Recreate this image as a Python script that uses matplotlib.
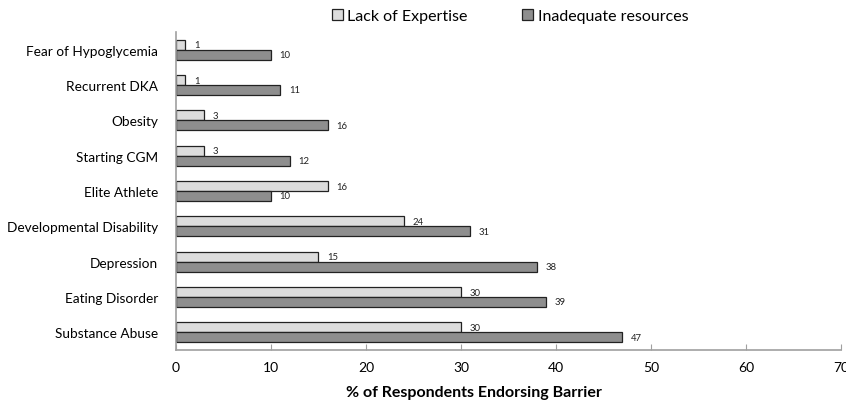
import numpy as np
import matplotlib.pyplot as plt

plt.rcParams['font.family'] = ['Lato', 'DejaVu Sans']

# categories top to bottom
barriers = ["Fear of Hypoglycemia", "Recurrent DKA", "Obesity", "Starting CGM",
            "Elite Athlete", "Developmental Disability", "Depression",
            "Eating Disorder", "Substance Abuse"]
lack_expertise = [1, 1, 3, 3, 16, 24, 15, 30, 30]
inadequate_resources = [10, 11, 16, 12, 10, 31, 38, 39, 47]
xticks = [0, 10, 20, 30, 40, 50, 60, 70]

fig = plt.figure(figsize=(8.46, 4.02), dpi=100)
ax = fig.add_axes([0.208, 0.127, 0.786, 0.791])

n = len(barriers)
y = np.arange(n)[::-1]
h = 0.28

b1 = ax.barh(y + h / 2, lack_expertise, height=h, color="#dcdcdc",
             edgecolor="#222222", linewidth=0.9, label="Lack of Expertise")
b2 = ax.barh(y - h / 2, inadequate_resources, height=h, color="#8e8e8e",
             edgecolor="#222222", linewidth=0.9, label="Inadequate resources")

for bars, vals in ((b1, lack_expertise), (b2, inadequate_resources)):
    for bar, v in zip(bars, vals):
        ax.annotate(str(v), (v, bar.get_y() + bar.get_height() / 2),
                    xytext=(6, 0), textcoords="offset points",
                    va="center", ha="left", fontsize=6.8, color="#222222")

ax.set_xlim(0, 70)
ax.set_ylim(-0.5, n - 0.5)
ax.set_xticks(xticks)
ax.set_yticks(y)
ax.set_yticklabels(barriers, fontsize=9.8)
ax.tick_params(axis="y", length=0, pad=13)
ax.tick_params(axis="x", direction="in", length=4, color="#a0a0a0",
               labelsize=10, pad=8)

for s in ("top", "right"):
    ax.spines[s].set_visible(False)
ax.spines["left"].set_color("#a0a0a0")
ax.spines["bottom"].set_color("#a0a0a0")
ax.spines["left"].set_linewidth(1.2)
ax.spines["bottom"].set_linewidth(1.2)

fig.text(0.56, 0.005, "% of Respondents Endorsing Barrier", ha="center",
         va="bottom", fontsize=11.5, fontweight="bold")

leg = fig.legend(handles=[b1, b2], loc="center", bbox_to_anchor=(0.603, 0.958),
                 ncol=2, frameon=False, fontsize=11.5, handlelength=0.7,
                 handleheight=0.7, handletextpad=0.3, columnspacing=3.4)

fig.savefig("out.png", dpi=100)
